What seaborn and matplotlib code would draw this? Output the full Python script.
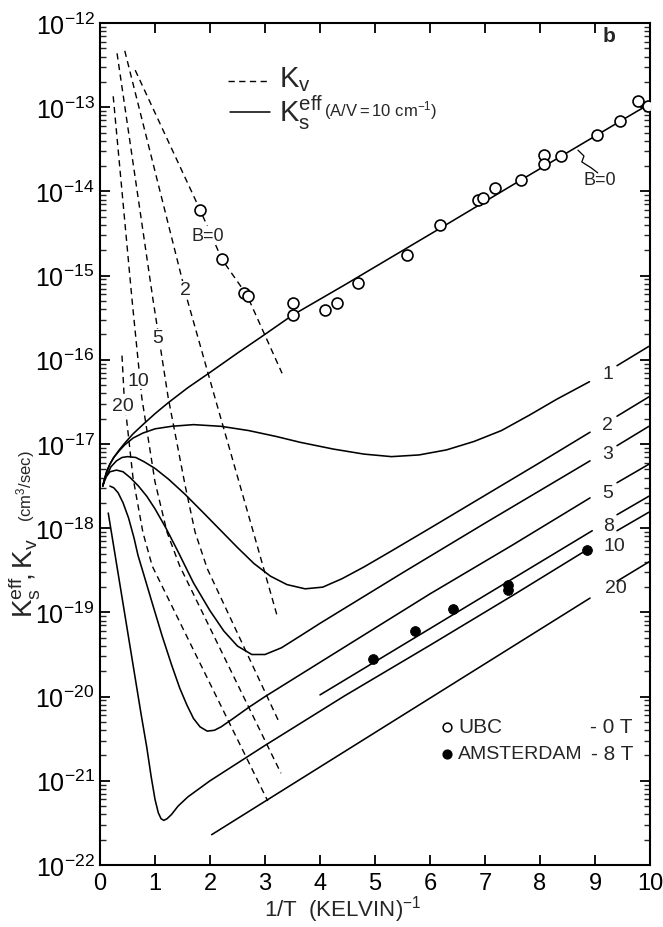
import numpy as np
import pandas as pd
import matplotlib
matplotlib.use("Agg")
import matplotlib.pyplot as plt
from matplotlib.ticker import LogLocator, FixedLocator, NullFormatter, FuncFormatter
import seaborn as sns

# ---- surface recombination K_s^eff (solid): 1/T and log10 K ----
ks_b0_x = [0.05, 0.08, 0.12, 0.18, 0.25, 0.35, 0.45, 0.60, 0.78, 1.00, 1.24, 1.60, 2.00, 2.50,
           2.95, 3.50, 4.45, 6.18, 7.64, 9.76, 10.0]
ks_b0_log = [-17.50, -17.42, -17.33, -17.24, -17.16, -17.07, -16.99, -16.88, -16.77, -16.64,
             -16.51, -16.33, -16.15, -15.92, -15.72, -15.47, -15.11, -14.44, -13.87, -13.05, -12.96]

ks_b1_x = [0.05, 0.08, 0.12, 0.18, 0.25, 0.35, 0.45, 0.60, 0.78, 1.00, 1.30, 1.70, 2.20, 2.70,
           3.20, 3.64, 4.24, 4.80, 5.30, 5.80, 6.30, 6.80, 7.30, 7.80, 8.30, 8.90]
ks_b1_log = [-17.50, -17.42, -17.33, -17.24, -17.16, -17.08, -17.01, -16.93, -16.87, -16.82,
             -16.79, -16.77, -16.79, -16.84, -16.91, -16.98, -17.06, -17.12, -17.15, -17.13,
             -17.07, -16.97, -16.84, -16.66, -16.47, -16.26]

ks_b2_x = [0.05, 0.10, 0.20, 0.30, 0.40, 0.50, 0.65, 0.80, 1.00, 1.25, 1.55, 1.90, 2.20, 2.50,
           2.80, 3.10, 3.40, 3.73, 4.05, 4.40, 4.80, 5.30, 6.00, 7.00, 8.00, 8.91]
ks_b2_log = [-17.50, -17.40, -17.27, -17.20, -17.16, -17.15, -17.16, -17.21, -17.29, -17.42,
             -17.60, -17.83, -18.03, -18.23, -18.42, -18.57, -18.67, -18.72, -18.70, -18.60,
             -18.46, -18.27, -18.00, -17.61, -17.22, -16.86]

ks_b3_x = [0.05, 0.10, 0.18, 0.30, 0.42, 0.55, 0.70, 0.85, 1.00, 1.20, 1.42, 1.70, 2.00, 2.25,
           2.50, 2.76, 3.00, 3.30, 3.64, 4.00, 4.45, 5.50, 7.00, 8.91]
ks_b3_log = [-17.50, -17.40, -17.33, -17.31, -17.33, -17.40, -17.50, -17.62, -17.77, -18.00,
             -18.28, -18.65, -18.98, -19.22, -19.40, -19.50, -19.50, -19.42, -19.28, -19.13,
             -18.95, -18.53, -17.94, -17.20]

ks_b5_x = [0.18, 0.25, 0.33, 0.42, 0.52, 0.62, 0.69, 0.80, 0.95, 1.13, 1.30, 1.45, 1.58, 1.70,
           1.82, 1.95, 2.08, 2.20, 2.40, 2.70, 3.00, 4.45, 6.00, 7.50, 8.91]
ks_b5_log = [-17.50, -17.52, -17.58, -17.70, -17.88, -18.12, -18.32, -18.56, -18.89, -19.28,
             -19.62, -19.90, -20.10, -20.26, -20.36, -20.41, -20.40, -20.36, -20.27, -20.13,
             -20.00, -19.41, -18.78, -18.20, -17.64]

ks_b8_x = [4.00, 8.95]
ks_b8_log = [-19.98, -18.03]

ks_b10_x = [0.15, 0.30, 0.45, 0.60, 0.75, 0.85, 0.93, 1.00, 1.06, 1.11, 1.16, 1.22, 1.30, 1.42,
            1.60, 2.00, 3.00, 4.45, 6.00, 7.50, 8.82]
ks_b10_log = [-17.82, -18.42, -19.02, -19.62, -20.22, -20.60, -20.95, -21.22, -21.38, -21.45,
              -21.47, -21.45, -21.40, -21.30, -21.19, -21.00, -20.58, -19.99, -19.39, -18.80, -18.27]

ks_b20_x = [2.03, 8.91]
ks_b20_log = [-21.64, -18.83]

# continuation of each solid curve past its field label
stub_x = [9.40, 9.98]
stub_log = {
    "1": [-16.07, -15.84],
    "2": [-16.67, -16.44],
    "3": [-17.02, -16.79],
    "5": [-17.46, -17.24],
    "8": [-17.84, -17.62],
    "10": [-18.03, -17.81],
    "20": [-18.63, -18.40],
}

# ---- volume recombination K_v (dashed) ----
kv_b0_x = [0.64, 1.82, 2.22, 2.67, 3.31]
kv_b0_log = [-12.56, -14.22, -14.81, -15.23, -16.16]
kv_b2_x = [0.45, 1.58, 2.09, 2.82, 3.22]
kv_b2_log = [-12.33, -15.27, -16.45, -18.12, -19.04]
kv_b5_x = [0.31, 0.96, 1.24, 1.55, 1.73, 1.95, 3.24]
kv_b5_log = [-12.36, -15.27, -16.45, -17.50, -18.05, -18.48, -20.28]
kv_b10_x = [0.24, 0.58, 0.76, 1.00, 1.22, 1.45, 3.29]
kv_b10_log = [-12.87, -15.27, -16.45, -17.45, -18.05, -18.45, -20.91]
kv_b20_x = [0.40, 0.44, 0.60, 0.78, 0.95, 3.05]
kv_b20_log = [-15.95, -16.45, -17.40, -18.05, -18.45, -21.24]

# ---- measurements ----
ubc_x = [1.82, 2.22, 2.62, 2.69, 3.51, 3.51, 4.09, 4.31, 4.69, 5.58, 6.18, 6.87, 6.96, 7.18,
         7.65, 8.07, 8.07, 8.38, 9.03, 9.45, 9.79, 9.96]
ubc_log = [-14.22, -14.80, -15.21, -15.24, -15.33, -15.47, -15.41, -15.33, -15.09, -14.76,
           -14.40, -14.10, -14.08, -13.96, -13.86, -13.57, -13.67, -13.58, -13.33, -13.16,
           -12.93, -12.99]

ams_x = [4.96, 5.73, 6.42, 7.42, 7.42, 8.85]
ams_log = [-19.55, -19.22, -18.96, -18.67, -18.73, -18.26]

# ---- label text ----
right_labels = ["1", "2", "3", "5", "8", "10", "20"]
right_label_x = [9.13, 9.13, 9.13, 9.13, 9.15, 9.15, 9.18]
right_label_log = [-16.16, -16.77, -17.11, -17.58, -17.97, -18.20, -18.71]

kv_labels = ["2", "5", "10", "20"]
kv_label_x = [1.55, 1.05, 0.69, 0.42]
kv_label_log = [-15.17, -15.74, -16.24, -16.54]

x_ticks = list(range(0, 11))
y_exponents = list(range(-22, -11))

FAMILY = "Liberation Sans"

sns.set_theme(style="ticks")
plt.rcParams["font.family"] = [FAMILY, "DejaVu Sans"]
plt.rcParams["mathtext.fontset"] = "custom"
plt.rcParams["mathtext.rm"] = FAMILY
plt.rcParams["mathtext.it"] = FAMILY
plt.rcParams["mathtext.bf"] = FAMILY + ":bold"

fig = plt.figure(figsize=(6.63, 9.28), dpi=100)
fig.patch.set_facecolor("white")
ax = fig.add_axes([100 / 663, 1 - 866 / 928, 550 / 663, 842 / 928])
ax.set_facecolor("white")


def to_k(logs):
    return np.power(10.0, np.asarray(logs, dtype=float))


def draw(xs, logs, dashed=False, lw=1.15):
    sns.lineplot(x=np.asarray(xs, dtype=float), y=to_k(logs), ax=ax, color="black",
                 lw=lw, sort=False, estimator=None, legend=False,
                 linestyle=(0, (4.5, 3.2)) if dashed else "-")


for xs, ls in [(ks_b0_x, ks_b0_log), (ks_b1_x, ks_b1_log), (ks_b2_x, ks_b2_log),
               (ks_b3_x, ks_b3_log), (ks_b5_x, ks_b5_log), (ks_b8_x, ks_b8_log),
               (ks_b10_x, ks_b10_log), (ks_b20_x, ks_b20_log)]:
    draw(xs, ls)

for key in right_labels:
    draw(stub_x, stub_log[key])

for xs, ls in [(kv_b0_x, kv_b0_log), (kv_b2_x, kv_b2_log), (kv_b5_x, kv_b5_log),
               (kv_b10_x, kv_b10_log), (kv_b20_x, kv_b20_log)]:
    draw(xs, ls, dashed=True, lw=1.0)

sns.scatterplot(x=ubc_x, y=to_k(ubc_log), ax=ax, marker="o", s=62,
                facecolor="white", edgecolor="black", linewidth=1.2, zorder=5, legend=False)
sns.scatterplot(x=ams_x, y=to_k(ams_log), ax=ax, marker="o", s=50,
                color="black", edgecolor="black", zorder=5, legend=False)

# curve labels
for t, xv, lv in zip(right_labels, right_label_x, right_label_log):
    ax.text(xv, 10 ** lv, t, fontsize=14, ha="left", va="center")
for t, xv, lv in zip(kv_labels, kv_label_x, kv_label_log):
    ax.text(xv, 10 ** lv, t, fontsize=14, ha="center", va="center",
            bbox=dict(facecolor="white", edgecolor="none", pad=0.5))
ax.text(1.96, 10 ** -14.52, "B=0", fontsize=13, ha="center", va="center",
        bbox=dict(facecolor="white", edgecolor="none", pad=0.5))
ax.text(9.09, 10 ** -13.86, "B=0", fontsize=13, ha="center", va="center")
# leader from the B=0 line to its label
lead_x = [8.69, 8.80, 8.76, 8.93, 9.05]
lead_log = [-13.51, -13.58, -13.65, -13.72, -13.78]
ax.plot(lead_x, to_k(lead_log), color="black", lw=0.9)

# legend in the upper part
ax.plot([0.233, 0.305], [0.931, 0.931], transform=ax.transAxes, color="black",
        lw=1.0, linestyle=(0, (4.5, 3.2)))
ax.plot([0.236, 0.309], [0.894, 0.894], transform=ax.transAxes, color="black", lw=1.1)
ax.text(0.325, 0.934, r"$\mathrm{K_v}$", transform=ax.transAxes, fontsize=21, va="center")
ax.text(0.325, 0.895, r"$\mathrm{K_s^{eff}}$", transform=ax.transAxes, fontsize=21, va="center")
ax.text(0.408, 0.897, r"$\mathrm{(A/V = 10\ cm^{-1})}$", transform=ax.transAxes,
        fontsize=12, va="center")
ax.text(0.925, 0.985, "b", transform=ax.transAxes, fontsize=15, fontweight="bold",
        ha="center", va="center")

# measurement key
ax.scatter([0.631], [0.164], transform=ax.transAxes, s=40, facecolor="white",
           edgecolor="black", linewidth=1.1, zorder=6)
ax.scatter([0.631], [0.132], transform=ax.transAxes, s=40, color="black", zorder=6)
ax.text(0.651, 0.164, "UBC", transform=ax.transAxes, fontsize=15, va="center")
ax.text(0.969, 0.164, "- 0 T", transform=ax.transAxes, fontsize=15, va="center", ha="right")
ax.text(0.651, 0.132, "AMSTERDAM", transform=ax.transAxes, fontsize=14, va="center")
ax.text(0.969, 0.132, "- 8 T", transform=ax.transAxes, fontsize=15, va="center", ha="right")

# axes
ax.set_yscale("log")
ax.set_xlim(0, 10)
ax.set_ylim(1e-22, 1e-12)
ax.xaxis.set_major_locator(FixedLocator(x_ticks))
ax.set_xticklabels([str(v) for v in x_ticks])
ax.yaxis.set_major_locator(FixedLocator([10.0 ** e for e in y_exponents]))
ax.yaxis.set_major_formatter(FuncFormatter(lambda v, p: r"$\mathrm{10^{%d}}$" % round(np.log10(v))))
ax.yaxis.set_minor_locator(LogLocator(base=10, subs=np.arange(2, 10), numticks=100))
ax.yaxis.set_minor_formatter(NullFormatter())
ax.tick_params(axis="both", which="major", direction="in", length=7, width=1.3,
               top=True, right=True, colors="black")
ax.tick_params(axis="y", which="minor", direction="in", length=4.5, width=1.0,
               left=True, right=True)
ax.tick_params(axis="x", which="major", labelsize=17, pad=5)
ax.tick_params(axis="y", which="major", labelsize=18, pad=4)
for sp in ax.spines.values():
    sp.set_linewidth(1.5)
    sp.set_color("black")

fig.text(343 / 663, 1 - 910 / 928, r"$\mathrm{1/T\ \ (KELVIN)^{-1}}$", fontsize=16,
         ha="center", va="center")
fig.text(24 / 663, 1 - 578 / 928, r"$\mathrm{K_s^{eff}\!,K_v}$", rotation=90, fontsize=20,
         ha="center", va="center")
fig.text(26 / 663, 1 - 486 / 928, r"$\mathrm{(cm^3/sec)}$", rotation=90, fontsize=12,
         ha="center", va="center")

fig.savefig("out.png", dpi=100, facecolor="white")
